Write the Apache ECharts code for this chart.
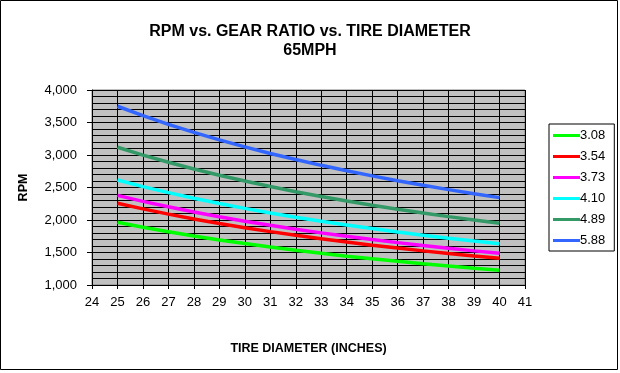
<!DOCTYPE html>
<html><head><meta charset="utf-8">
<script src="https://cdn.jsdelivr.net/npm/echarts@6/dist/echarts.min.js"></script>
<style>html,body{margin:0;padding:0;background:#fff}#c{width:620px;height:373px}</style>
</head><body><div id="c"></div>
<script>
const diameters = [25,26,27,28,29,30,31,32,33,34,35,36,37,38,39,40];
const gearNames = ['3.08','3.54','3.73','4.10','4.89','5.88'];
const rpm308 = [1964,1889,1819,1754,1693,1637,1584,1535,1488,1444,1403,1364,1327,1292,1259,1228];
const rpm354 = [2258,2171,2090,2016,1946,1881,1821,1764,1710,1660,1613,1568,1525,1485,1447,1411];
const rpm373 = [2379,2287,2203,2124,2051,1982,1918,1858,1802,1749,1699,1652,1607,1565,1525,1487];
const rpm410 = [2615,2514,2421,2335,2254,2179,2109,2043,1981,1923,1868,1816,1767,1720,1676,1634];
const rpm489 = [3119,2999,2888,2784,2688,2599,2515,2436,2363,2293,2228,2166,2107,2052,1999,1949];
const rpm588 = [3750,3606,3472,3348,3233,3125,3024,2930,2841,2757,2679,2604,2534,2467,2404,2344];
const allRpm = [rpm308, rpm354, rpm373, rpm410, rpm489, rpm588];
const colors = ['#00FF00','#FF0000','#FF00FF','#00FFFF','#339966','#3366FF'];
const FONT = 'Liberation Sans, Arial, sans-serif';

const chart = echarts.init(document.getElementById('c'), null, {renderer:'canvas'});
chart.setOption({
  animation:false,
  backgroundColor:'#fff',
  title:{text:'RPM vs. GEAR RATIO vs. TIRE DIAMETER\n65MPH', left:'center', top:17,
    textStyle:{fontFamily:FONT, fontSize:16, fontWeight:'bold', color:'#000', lineHeight:19}},
  graphic:[{type:'rect', shape:{x:0.5,y:0.5,width:617,height:369}, style:{fill:null, stroke:'#000', lineWidth:1}, silent:true}],
  legend:{orient:'vertical', left:549, top:124, padding:[5,9,4,4], itemGap:8, itemWidth:27, itemHeight:3,
    borderColor:'#000', borderWidth:1, icon:'rect', textStyle:{fontFamily:FONT, fontSize:13, color:'#000', padding:[0,0,0,-5]},
    data:gearNames},
  grid:{left:92, top:90, right:95, bottom:88, show:true, backgroundColor:'#C0C0C0', borderColor:'#808080', borderWidth:1},
  xAxis:{type:'value', min:24, max:41, interval:1, name:'TIRE DIAMETER (INCHES)', nameLocation:'middle', nameGap:57,
    nameTextStyle:{fontFamily:FONT, fontSize:12.5, fontWeight:'bold', color:'#000'},
    axisLine:{lineStyle:{color:'#000'}}, axisTick:{inside:false, length:4, lineStyle:{color:'#000'}},
    axisLabel:{fontFamily:FONT, fontSize:13, color:'#000', margin:11},
    splitLine:{show:true, lineStyle:{color:'#000', width:1}}},
  yAxis:{type:'value', min:1000, max:4000, interval:500, name:'RPM', nameLocation:'middle', nameGap:62,
    nameTextStyle:{fontFamily:FONT, fontSize:12.5, fontWeight:'bold', color:'#000'},
    axisLine:{show:true, lineStyle:{color:'#000'}}, axisTick:{show:true, length:5, lineStyle:{color:'#000'}},
    axisLabel:{fontFamily:FONT, fontSize:13, color:'#000', margin:15, formatter:v=>v.toLocaleString('en-US')},
    splitLine:{show:true, lineStyle:{color:'#000', width:1}},
    minorTick:{show:false, splitNumber:5}, minorSplitLine:{show:true, lineStyle:{color:'#000', width:1}}},
  series: gearNames.map((n,i)=>({name:n, type:'line', symbol:'none', color:colors[i],
    lineStyle:{width:3.5, color:colors[i]}, data: diameters.map((d,j)=>[d, allRpm[i][j]])}))
});
</script></body></html>
